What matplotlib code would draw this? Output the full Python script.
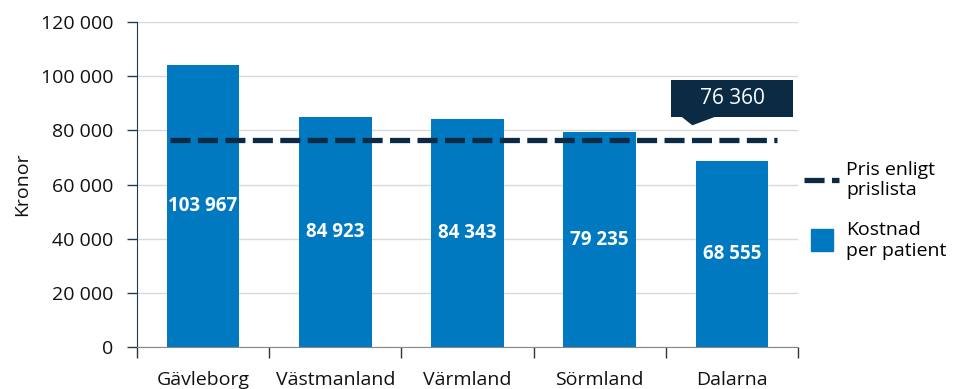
import matplotlib
matplotlib.use("Agg")
import matplotlib.pyplot as plt
from matplotlib.lines import Line2D
from matplotlib.patches import Rectangle, Polygon

# data
regioner = ["Gävleborg", "Västmanland", "Värmland", "Sörmland", "Dalarna"]
kostnad = [103967, 84923, 84343, 79235, 68555]
pris = 76360
yticks = [0, 20000, 40000, 60000, 80000, 100000, 120000]

bar_color = "#0079c1"
navy = "#0b2a44"

plt.rcParams["font.family"] = ["Open Sans", "DejaVu Sans"]
fs = 14


def fmt(v):
    return f"{v:,}".replace(",", " ")


fig = plt.figure(figsize=(9.54, 3.89), dpi=100)
ax = fig.add_axes([0.1436, 0.108, 0.693, 0.8354])

x = range(len(regioner))
ax.bar(x, kostnad, width=0.55, color=bar_color, zorder=2)
for i, v in enumerate(kostnad):
    ax.text(i, v / 2, fmt(v), ha="center", va="center", color="white",
            fontsize=13.5, fontweight="bold", zorder=3)

ax.hlines(pris, -0.25, 4.34, colors=navy, linewidth=3.8,
          linestyles=(0, (3.8, 1.4)), zorder=4)

# price callout
bx0, bx1 = 3.54, 4.46
by0, by1 = pris + 8600, pris + 22200
ax.add_patch(Rectangle((bx0, by0), bx1 - bx0, by1 - by0, facecolor=navy,
                       edgecolor="none", zorder=5, clip_on=False))
ax.add_patch(Polygon([(3.62, by0), (3.87, by0), (3.70, pris + 5500)],
                     closed=True, facecolor=navy, edgecolor="none", zorder=5))
ax.text((bx0 + bx1) / 2, (by0 + by1) / 2, fmt(pris), ha="center", va="center",
        color="white", fontsize=15, zorder=6)

ax.set_xlim(-0.5, 4.5)
ax.set_ylim(0, 120000)
ax.set_yticks(yticks)
ax.set_yticklabels([fmt(t) for t in yticks], fontsize=fs, color="#111111")
ax.set_xticks([i + 0.5 for i in range(-1, len(regioner))])
ax.set_xticklabels([])
ax.set_xticks(list(x), minor=True)
ax.set_xticklabels(regioner, minor=True, fontsize=fs, color="#111111")
ax.tick_params(axis="x", which="major", length=8, color="#333333", width=1)
ax.tick_params(axis="x", which="minor", length=0, pad=17)
ax.tick_params(axis="y", length=7, color="#1f3a55", width=1, pad=10)
ax.set_ylabel("Kronor", fontsize=fs, color="#111111", labelpad=7)

ax.grid(axis="y", color="#d9d9d9", linewidth=1, zorder=0)
ax.set_axisbelow(True)
for s in ["top", "right"]:
    ax.spines[s].set_visible(False)
ax.spines["left"].set_color("#1f3a55")
ax.spines["bottom"].set_color("#888888")

handles = [
    Line2D([], [], color=navy, linewidth=3.8, linestyle=(0, (3.8, 1.4))),
    Line2D([], [], marker="s", color=bar_color, linestyle="none", markersize=16),
]
labels = ["Pris enligt\nprislista", "Kostnad\nper patient"]
fig.legend(handles, labels, loc="upper left", bbox_to_anchor=(0.835, 0.607),
           frameon=False, fontsize=fs, handlelength=1.8, handletextpad=0.35,
           labelspacing=1.1, borderaxespad=0)

fig.savefig("out.png", dpi=100)
